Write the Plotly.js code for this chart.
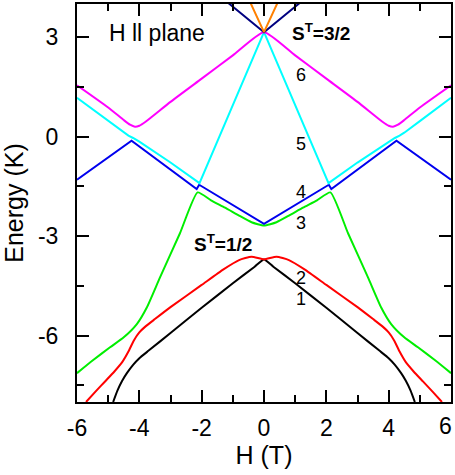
<!DOCTYPE html>
<html>
<head>
<meta charset="utf-8">
<script src="https://cdn.plot.ly/plotly-3.0.1.min.js"></script>
<style>html,body{margin:0;padding:0;background:#fff;}#chart{width:455px;height:475px;}</style>
</head>
<body>
<div id="chart"></div>
<script>
// Level 1 (black)
const x1 = [-4.84, -4.7, -4.55, -4.4, -4.2, -4.0, -3.7, -3.0, -2.0, -1.0, -0.3, 0, 0.3, 1.0, 2.0, 3.0, 3.7, 4.0, 4.2, 4.4, 4.55, 4.7, 4.84];
const y1 = [-8.0, -7.65, -7.36, -7.13, -6.88, -6.68, -6.45, -5.92, -5.16, -4.42, -3.92, -3.7, -3.92, -4.42, -5.16, -5.92, -6.45, -6.68, -6.88, -7.13, -7.36, -7.65, -8.0];
// Level 2 (red)
const x2 = [-5.71, -5.4, -5.1, -4.8, -4.55, -4.35, -4.18, -4.0, -3.8, -3.5, -3.0, -2.0, -1.3, -0.8, -0.4, 0, 0.4, 0.8, 1.3, 2.0, 3.0, 3.5, 3.8, 4.0, 4.18, 4.35, 4.55, 4.8, 5.1, 5.4, 5.71];
const y2 = [-8.0, -7.68, -7.38, -7.08, -6.8, -6.48, -6.15, -5.9, -5.72, -5.5, -5.14, -4.47, -4.0, -3.72, -3.62, -3.7, -3.62, -3.72, -4.0, -4.47, -5.14, -5.5, -5.72, -5.9, -6.15, -6.48, -6.8, -7.08, -7.38, -7.68, -8.0];
// Level 3 (green)
const x3 = [-6, -5.5, -4.94, -4.5, -4.08, -3.76, -3.34, -2.7, -2.13, -1.7, -1.25, -0.8, -0.4, 0, 0.4, 0.8, 1.25, 1.7, 2.13, 2.7, 3.34, 3.76, 4.08, 4.5, 4.94, 5.5, 6];
const y3 = [-7.13, -6.75, -6.35, -6.05, -5.65, -5.15, -4.25, -2.92, -1.68, -1.92, -2.14, -2.38, -2.58, -2.68, -2.58, -2.38, -2.14, -1.92, -1.68, -2.92, -4.25, -5.15, -5.65, -6.05, -6.35, -6.75, -7.13];
// Level 4 (blue)
const x4 = [-6, -4.25, -2.16, -2.08, 0, 2.08, 2.16, 4.25, 6];
const y4 = [-1.3, -0.12, -1.58, -1.45, -2.63, -1.45, -1.58, -0.12, -1.3];
// Level 5 (cyan)
const x5 = [-6, -5.0, -4.5, -4.35, -4.2, -4.0, -3.0, -2.07, 0, 2.07, 3.0, 4.0, 4.2, 4.35, 4.5, 5.0, 6];
const y5 = [1.17, 0.47, 0.12, 0.03, -0.04, -0.15, -0.78, -1.4, 3.15, -1.4, -0.78, -0.15, -0.04, 0.03, 0.12, 0.47, 1.17];
// Level 6 (magenta)
const x6 = [-6, -5.0, -4.5, -4.3, -4.14, -4.0, -3.8, -3.0, -2.0, -1.0, 0, 1.0, 2.0, 3.0, 3.8, 4.0, 4.14, 4.3, 4.5, 5.0, 6];
const y6 = [1.55, 0.88, 0.5, 0.36, 0.3, 0.33, 0.45, 1.05, 1.75, 2.45, 3.15, 2.45, 1.75, 1.05, 0.45, 0.33, 0.3, 0.36, 0.5, 0.88, 1.55];
// S=3/2 upper levels (navy, orange)
const x7 = [-1.3, 0, 1.3];
const y7 = [4.15, 3.15, 4.15];
const x8 = [-0.5, 0, 0.5];
const y8 = [4.17, 3.15, 4.17];

const levelLabels = ['1', '2', '3', '4', '5', '6'];
const levelLabelX = [1.19, 1.19, 1.19, 1.19, 1.19, 1.19];
const levelLabelY = [-4.9, -4.25, -2.6, -1.66, -0.22, 1.85];

const xTicks = [-6, -4, -2, 0, 2, 4, 6];
const xTickText = ['-6', '-4', '-2', '0', '2', '4', ''];
const xLastTick = '6';
const yTicks = [-6, -3, 0, 3];

const FONT = 'Liberation Sans, Arial, sans-serif';

function tr(x, y, color, shape) {
  return {x: x, y: y, mode: 'lines', type: 'scatter', hoverinfo: 'skip',
    line: {color: color, width: 2, shape: shape || 'linear', smoothing: 0.5}};
}

const data = [
  tr(x1, y1, '#000000', 'spline'),
  tr(x2, y2, '#ff0000', 'spline'),
  tr(x3, y3, '#00ee00', 'spline'),
  tr(x4, y4, '#0000ee'),
  tr(x5, y5, '#00ffff'),
  tr(x6, y6, '#ff00ff', 'spline'),
  tr(x7, y7, '#000080'),
  tr(x8, y8, '#ff8000')
];

const annotations = levelLabels.map((t, i) => ({
  x: levelLabelX[i], y: levelLabelY[i], xref: 'x', yref: 'y', text: t, showarrow: false,
  xanchor: 'center', yanchor: 'middle', font: {family: FONT, size: 18, color: '#000'}
}));
annotations.push({x: -5.05, y: 3.12, xref: 'x', yref: 'y', text: 'H ll plane', showarrow: false,
  xanchor: 'left', yanchor: 'middle', font: {family: FONT, size: 23, color: '#000'}});
annotations.push({x: 0.85, y: 3.15, xref: 'x', yref: 'y', text: '<b>S<sup>T</sup>=3/2</b>', showarrow: false,
  xanchor: 'left', yanchor: 'middle', font: {family: FONT, size: 19, color: '#000'}});
annotations.push({x: -2.3, y: -3.2, xref: 'x', yref: 'y', text: '<b>S<sup>T</sup>=1/2</b>', showarrow: false,
  xanchor: 'left', yanchor: 'middle', font: {family: FONT, size: 19, color: '#000'}});
// last x tick label, kept inside the page edge
annotations.push({x: 1.0, y: -0.06, xref: 'paper', yref: 'paper', text: xLastTick, showarrow: false,
  xanchor: 'right', xshift: 2, yanchor: 'middle', borderpad: 0,
  font: {family: FONT, size: 23, color: '#000'}});

const layout = {
  width: 455, height: 475,
  margin: {l: 77, r: 4, t: 4, b: 73},
  paper_bgcolor: '#fff', plot_bgcolor: '#fff',
  showlegend: false,
  font: {family: FONT, color: '#000'},
  xaxis: {
    range: [-6, 6], tickvals: xTicks, ticktext: xTickText,
    ticks: 'inside', ticklen: 12, tickwidth: 2, tickcolor: '#000',
    linewidth: 2, linecolor: '#000', mirror: 'ticks', showline: true,
    showgrid: false, zeroline: false, ticklabelstandoff: 4,
    tickfont: {family: FONT, size: 23, color: '#000'},
    minor: {ticks: 'inside', ticklen: 7, tickwidth: 2, tickcolor: '#000', dtick: 1, tick0: 0, showgrid: false},
    title: {text: 'H (T)', font: {family: FONT, size: 25, color: '#000'}, standoff: 5}
  },
  yaxis: {
    range: [-8, 4], tickvals: yTicks, ticktext: yTicks.map(String),
    ticks: 'inside', ticklen: 12, tickwidth: 2, tickcolor: '#000',
    linewidth: 2, linecolor: '#000', mirror: 'ticks', showline: true,
    showgrid: false, zeroline: false, ticklabelstandoff: 12,
    tickfont: {family: FONT, size: 23, color: '#000'},
    minor: {ticks: 'inside', ticklen: 7, tickwidth: 2, tickcolor: '#000', dtick: 1.5, tick0: 0, showgrid: false},
    title: {text: 'Energy (K)', font: {family: FONT, size: 25, color: '#000'}, standoff: 9}
  },
  annotations: annotations
};

Plotly.newPlot('chart', data, layout, {displayModeBar: false, staticPlot: true});
</script>
</body>
</html>
